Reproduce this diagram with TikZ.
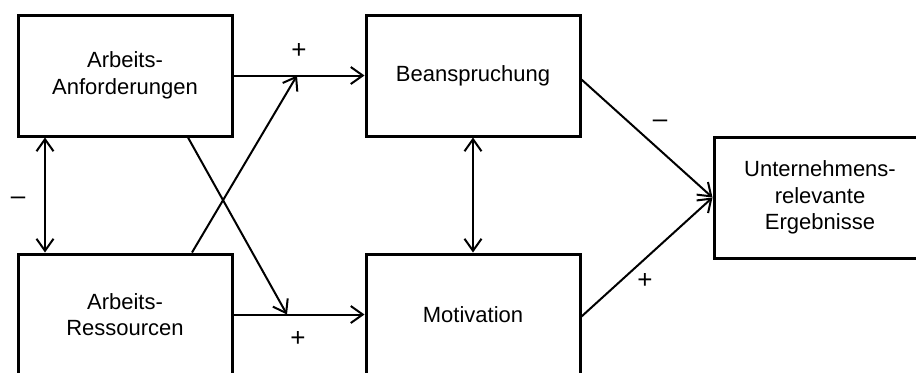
\documentclass[tikz,border=0pt]{standalone}
\usepackage{fontspec}
\setmainfont{Liberation Sans}
\usetikzlibrary{arrows.meta}
\begin{document}
\begin{tikzpicture}[x=0.5pt,y=-0.5pt,
  box/.style={draw,line width=1.5pt,minimum width=107pt,minimum height=60.5pt,
    inner sep=0pt,align=center,font=\fontsize{11pt}{13.2pt}\selectfont},
  conn/.style={line width=1pt,-{Straight Barb[length=6pt,width=8.5pt,line width=1pt]}},
  biconn/.style={line width=1pt,{Straight Barb[length=6pt,width=8.5pt,line width=1pt]}-{Straight Barb[length=6pt,width=8.5pt,line width=1pt]}},
  sign/.style={font=\fontsize{13pt}{15pt}\selectfont,inner sep=0pt}]
\useasboundingbox (0,0) rectangle (916,372);
\clip (0,0) rectangle (916,372);

% boxes
\node[box] (A) at (125,75.5) {Arbeits-\\Anforderungen};
\node[box] (R) at (125,314.5) {Arbeits-\\Ressourcen};
\node[box] (B) at (473,75.5) {Beanspruchung};
\node[box] (M) at (473,314.5) {Motivation};
\node[box,minimum width=106pt] (U) at (820,197.5) {Unternehmens-\\relevante\\Ergebnisse};

% points where the crossing paths meet the horizontal arrows
\coordinate (pA) at (297,75.5);
\coordinate (pR) at (287,314.5);

% connectors
\draw[conn] (A.east) -- (B.west);
\draw[conn] (R.east) -- (M.west);
\draw[conn] ([xshift=33.5pt]R.north) -- (pA);
\draw[conn] ([xshift=31.5pt]A.south) -- (pR);
\draw[biconn] ([xshift=-40pt]A.south) -- ([xshift=-40pt]R.north);
\draw[biconn] (B.south) -- (M.north);
\draw[conn] ([yshift=-2pt]B.east) -- (U.west);
\draw[conn] ([yshift=-1pt]M.east) -- (U.west);

% signs
\node[sign] (s1) at (299,50.5) {+};
\node[sign] (s2) at (298,339) {+};
\node[sign] (s3) at (18,201) {–};
\node[sign] (s4) at (660,124) {–};
\node[sign] (s5) at (645,281) {+};
\end{tikzpicture}
\end{document}
